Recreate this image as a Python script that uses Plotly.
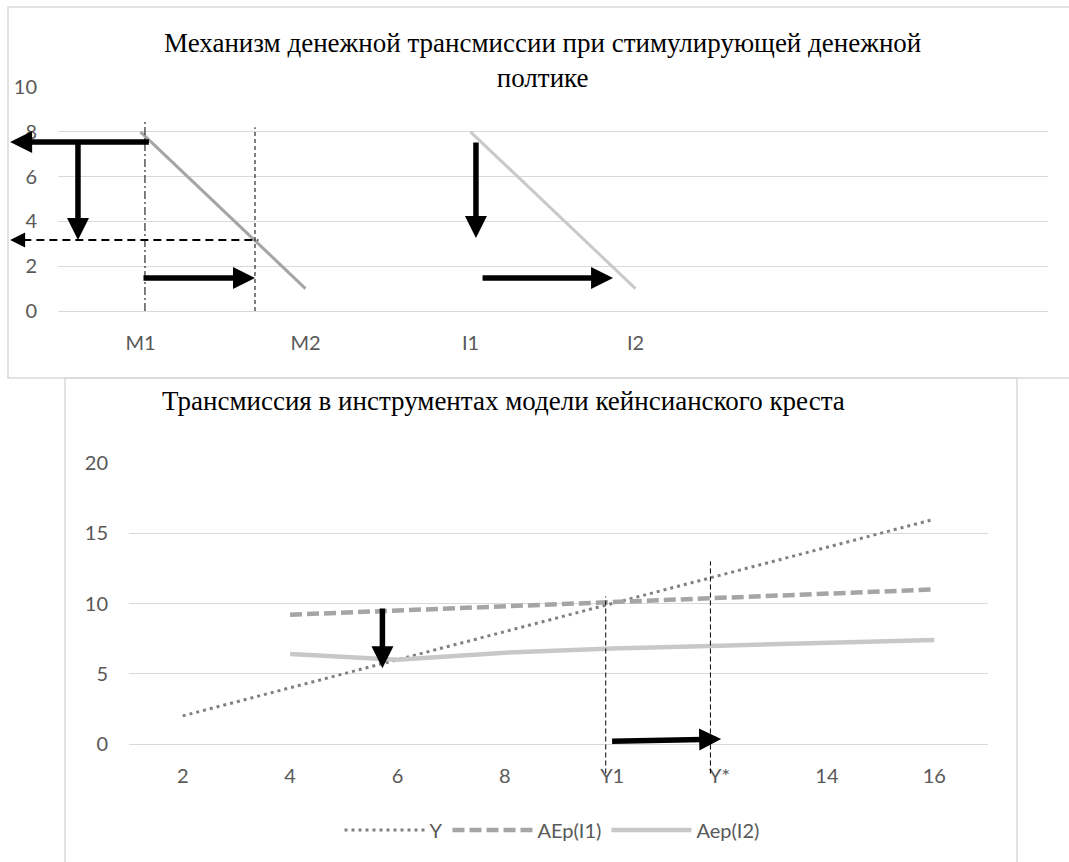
import plotly.graph_objects as go

# ---------------- data ----------------
top_categories = ["M1", "M2", "I1", "I2", "", ""]
money_curve = [8, 1, None, None, None, None]      # M1 -> M2
invest_curve = [None, None, 8, 1, None, None]     # I1 -> I2
top_y_ticks = [0, 2, 4, 6, 8, 10]

income = [2, 4, 6, 8, 10, 12, 14, 16]
y_line = [2, 4, 6, 8, 10, 12, 14, 16]
ae_income = [4, 6, 8, 10, 12, 14, 16]
aep_i1 = [9.2, 9.5, 9.8, 10.1, 10.4, 10.7, 11.0]
aep_i2 = [6.4, 6.0, 6.5, 6.8, 7.0, 7.2, 7.4]
bottom_x_labels = ["2", "4", "6", "8", "Y1", "Y*", "14", "16"]
bottom_y_ticks = [0, 5, 10, 15, 20]

top_title = "Механизм денежной трансмиссии при стимулирующей денежной<br>полтике"
bottom_title = "Трансмиссия в инструментах модели кейнсианского креста"

# ---------------- geometry / style ----------------
W, H = 1069, 862
def fx(p):
    return p / W
def fy(p):
    return 1 - p / H

TOP_XR = [-0.5, 5.5]
TOP_YR = [0, 10]
BOT_XR = [1, 17]
BOT_YR = [0, 20]
TOP_DX = [fx(58), fx(1048)]
TOP_DY = [fy(311), fy(87)]
BOT_DX = [fx(129), fx(988)]
BOT_DY = [fy(744), fy(463)]

def dom(v, r):
    return (v - r[0]) / (r[1] - r[0])

def paper(v, r, d):
    return d[0] + dom(v, r) * (d[1] - d[0])

GRID = "#D9D9D9"
TICK_FONT = dict(family="Lato", size=20, color="#595959")
TITLE_FONT = dict(family="Liberation Serif", size=27, color="black")

fig = go.Figure()

top_x = list(range(len(top_categories)))
fig.add_trace(go.Scatter(x=top_x, y=money_curve, mode="lines", showlegend=False,
                         line=dict(color="#A5A5A5", width=3), xaxis="x", yaxis="y"))
fig.add_trace(go.Scatter(x=top_x, y=invest_curve, mode="lines", showlegend=False,
                         line=dict(color="#C9C9C9", width=3), xaxis="x", yaxis="y"))

fig.add_trace(go.Scatter(x=income, y=y_line, mode="lines", name="Y",
                         line=dict(color="#808080", width=3, dash="3px,4px"),
                         xaxis="x2", yaxis="y2"))
fig.add_trace(go.Scatter(x=ae_income, y=aep_i1, mode="lines", name="AEp(I1)",
                         line=dict(color="#A5A5A5", width=4.5, dash="12px,5px"),
                         xaxis="x2", yaxis="y2"))
fig.add_trace(go.Scatter(x=ae_income, y=aep_i2, mode="lines", name="Aep(I2)",
                         line=dict(color="#C8C8C8", width=4.5),
                         xaxis="x2", yaxis="y2"))

shapes = []
# chart frames
shapes.append(dict(type="rect", xref="paper", yref="paper", x0=fx(8), x1=fx(1080),
                   y0=fy(378), y1=fy(7), line=dict(color=GRID, width=1.5)))
shapes.append(dict(type="rect", xref="paper", yref="paper", x0=fx(65), x1=fx(1017),
                   y0=fy(378), y1=fy(880), line=dict(color=GRID, width=1.5)))

# top chart guide lines (domain refs so they are not clipped)
m1_guide_x, m2_guide_x = 0.027, 0.694
rate_new = 3.17
arrow_left_x = -0.79
shapes.append(dict(type="line", xref="x domain", yref="y domain",
                   x0=dom(m1_guide_x, TOP_XR), x1=dom(m1_guide_x, TOP_XR),
                   y0=0, y1=dom(8.55, TOP_YR),
                   line=dict(color="black", width=1, dash="8px,3px,2px,3px")))
shapes.append(dict(type="line", xref="x domain", yref="y domain",
                   x0=dom(m2_guide_x, TOP_XR), x1=dom(m2_guide_x, TOP_XR),
                   y0=0, y1=dom(8.2, TOP_YR),
                   line=dict(color="black", width=1, dash="4px,3px")))
shapes.append(dict(type="line", xref="x domain", yref="y domain",
                   x0=dom(arrow_left_x + 0.08, TOP_XR), x1=dom(m2_guide_x + 0.02, TOP_XR),
                   y0=dom(rate_new, TOP_YR), y1=dom(rate_new, TOP_YR),
                   line=dict(color="black", width=2, dash="8px,5px")))

# bottom chart guide lines
y1_x, ystar_x = 9.88, 11.83
shapes.append(dict(type="line", xref="x2 domain", yref="y2 domain",
                   x0=dom(y1_x, BOT_XR), x1=dom(y1_x, BOT_XR),
                   y0=dom(-2.1, BOT_YR), y1=dom(10.5, BOT_YR),
                   line=dict(color="black", width=1, dash="5px,3px")))
shapes.append(dict(type="line", xref="x2 domain", yref="y2 domain",
                   x0=dom(ystar_x, BOT_XR), x1=dom(ystar_x, BOT_XR),
                   y0=dom(-2.1, BOT_YR), y1=dom(13.0, BOT_YR),
                   line=dict(color="black", width=1, dash="5px,3px")))

def arrow(x, y, ax, ay, xa="x", ya="y", width=5.5, size=0.8):
    return dict(x=x, y=y, ax=ax, ay=ay, xref=xa, yref=ya, axref=xa, ayref=ya,
                text="", showarrow=True, arrowhead=2, arrowwidth=width,
                arrowsize=size, arrowcolor="black", standoff=0)

annotations = [
    # top chart arrows
    arrow(arrow_left_x, 7.54, 0.06, 7.54),
    arrow(-0.379, rate_new, -0.379, 7.54),
    arrow(m2_guide_x, 1.47, 0.009, 1.47),
    arrow(2.033, 3.26, 2.033, 7.59),
    arrow(2.864, 1.47, 2.064, 1.47),
    # small head of the dashed arrow (paper ref so it is never hidden)
    dict(x=paper(arrow_left_x, TOP_XR, TOP_DX), y=paper(rate_new, TOP_YR, TOP_DY),
         xref="paper", yref="paper", ax=18, ay=0, text="", showarrow=True,
         arrowhead=2, arrowwidth=2, arrowsize=1.5, arrowcolor="black", standoff=0),
    # bottom chart arrows
    arrow(5.72, 5.4, 5.72, 9.75, "x2", "y2"),
    arrow(12.03, 0.35, 9.97, 0.2, "x2", "y2"),
    # titles
    dict(text=top_title, xref="paper", yref="paper", x=fx(542), y=fy(61),
         xanchor="center", yanchor="middle", showarrow=False, font=TITLE_FONT),
    dict(text=bottom_title, xref="paper", yref="paper", x=fx(503), y=fy(401),
         xanchor="center", yanchor="middle", showarrow=False, font=TITLE_FONT),
]

fig.update_layout(
    width=W, height=H,
    margin=dict(l=0, r=0, t=0, b=0, pad=0, autoexpand=False),
    paper_bgcolor="white", plot_bgcolor="white",
    shapes=shapes, annotations=annotations,
    xaxis=dict(domain=TOP_DX, range=TOP_XR, anchor="y",
               tickvals=top_x, ticktext=top_categories, showgrid=False,
               showline=True, linecolor=GRID, linewidth=1, zeroline=False,
               ticks="", tickfont=TICK_FONT, ticklabelstandoff=14),
    yaxis=dict(domain=TOP_DY, range=TOP_YR, anchor="x",
               tickvals=top_y_ticks, showgrid=True, gridcolor=GRID, gridwidth=1,
               zeroline=False, showline=False, ticks="", tickfont=TICK_FONT,
               ticklabelstandoff=20),
    xaxis2=dict(domain=BOT_DX, range=BOT_XR, anchor="y2",
                tickvals=income, ticktext=bottom_x_labels, showgrid=False,
                showline=True, linecolor=GRID, linewidth=1, zeroline=False,
                ticks="", tickfont=TICK_FONT, ticklabelstandoff=14),
    yaxis2=dict(domain=BOT_DY, range=BOT_YR, anchor="x2",
                tickvals=bottom_y_ticks, showgrid=True, gridcolor=GRID, gridwidth=1,
                zeroline=False, showline=False, ticks="", tickfont=TICK_FONT,
                ticklabelstandoff=20),
    legend=dict(orientation="h", x=fx(552), xanchor="center", y=fy(830),
                yanchor="middle", font=TICK_FONT, itemwidth=80,
                bgcolor="rgba(0,0,0,0)"),
)

fig.write_html("out.html", config={"displayModeBar": False},
               post_script="document.body.style.margin='0';")
